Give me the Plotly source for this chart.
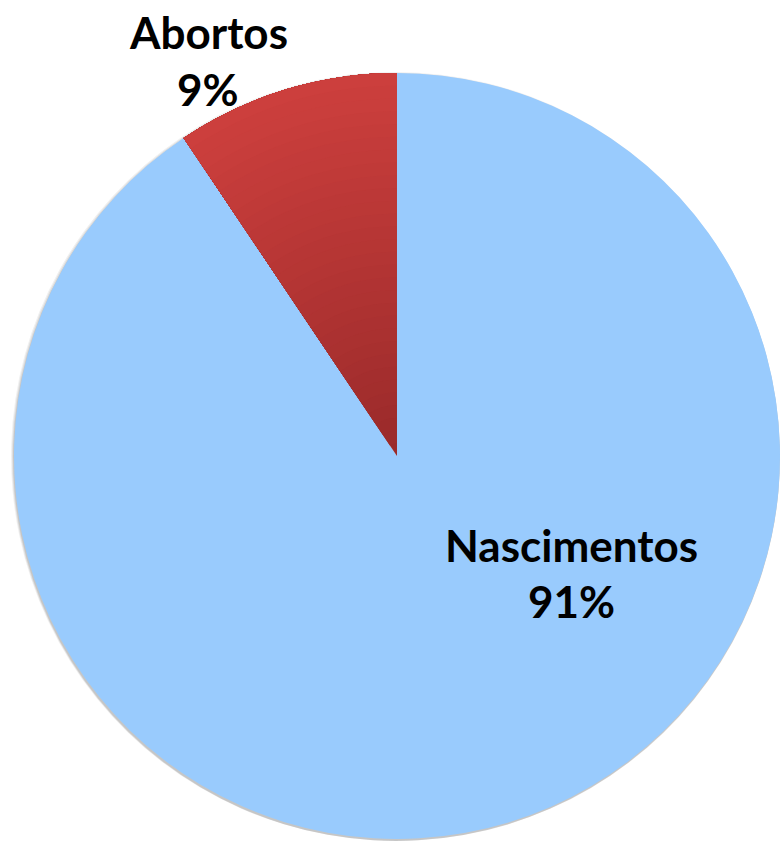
import plotly.graph_objects as go

labels = ["Nascimentos", "Abortos"]
values = [90.6, 9.4]
blue = "#99CBFD"
red_inner = (0x9A, 0x2A, 0x2A)
red_outer = (0xCC, 0x3F, 0x3D)

W, H = 780, 842
cx, cy, r = 398, 456, 384


def domain(cx, cy, r):
    return dict(x=[max(0, (cx - r) / W), min(1, (cx + r) / W)],
                y=[max(0, 1 - (cy + r) / H), min(1, 1 - (cy - r) / H)])


fig = go.Figure()
# soft shadow
for dr, a in [(3, 0.06), (2, 0.08), (1, 0.10)]:
    fig.add_trace(go.Pie(
        labels=labels, values=values, sort=False, direction="clockwise",
        marker=dict(colors=[f"rgba(0,0,0,{a})"] * 2, line=dict(width=0)),
        textinfo="none", hoverinfo="skip", showlegend=False,
        domain=domain(cx, cy + 2, r + dr),
    ))

n = 30
for i in range(n):
    t = i / (n - 1)
    c = tuple(round(a + (b - a) * t) for a, b in zip(red_inner, red_outer))
    shade = "rgb(%d,%d,%d)" % c
    fig.add_trace(go.Pie(
        labels=labels, values=values, sort=False, direction="clockwise",
        hole=i / n if i > 0 else 0,
        marker=dict(colors=[blue if i == 0 else "rgba(0,0,0,0)", shade], line=dict(width=0)),
        textinfo="none", hoverinfo="label+percent" if i == 0 else "skip", showlegend=False,
        domain=domain(cx, cy, r),
    ))

total = sum(values)
pct = [f"{round(v / total * 100)}%" for v in values]
font = dict(family="Lato, 'Open Sans', sans-serif", size=44, color="black")
positions = [(571, 545, 601), (208, 32, 89)]
for lab, p, (x, y1, y2) in zip(labels, pct, positions):
    fig.add_annotation(x=x / W, y=1 - y1 / H, xref="paper", yref="paper",
                       xanchor="center", yanchor="middle", borderpad=0,
                       text=f"<b>{lab}</b>", showarrow=False, font=font)
    fig.add_annotation(x=x / W, y=1 - y2 / H, xref="paper", yref="paper",
                       xanchor="center", yanchor="middle", borderpad=0,
                       text=f"<b>{p}</b>", showarrow=False, font=font)

fig.update_layout(width=W, height=H, margin=dict(l=0, r=0, t=0, b=0),
                  paper_bgcolor="white", plot_bgcolor="white")
fig.write_html("out.html", config={"displayModeBar": False},
               post_script="document.body.style.margin='0';")
